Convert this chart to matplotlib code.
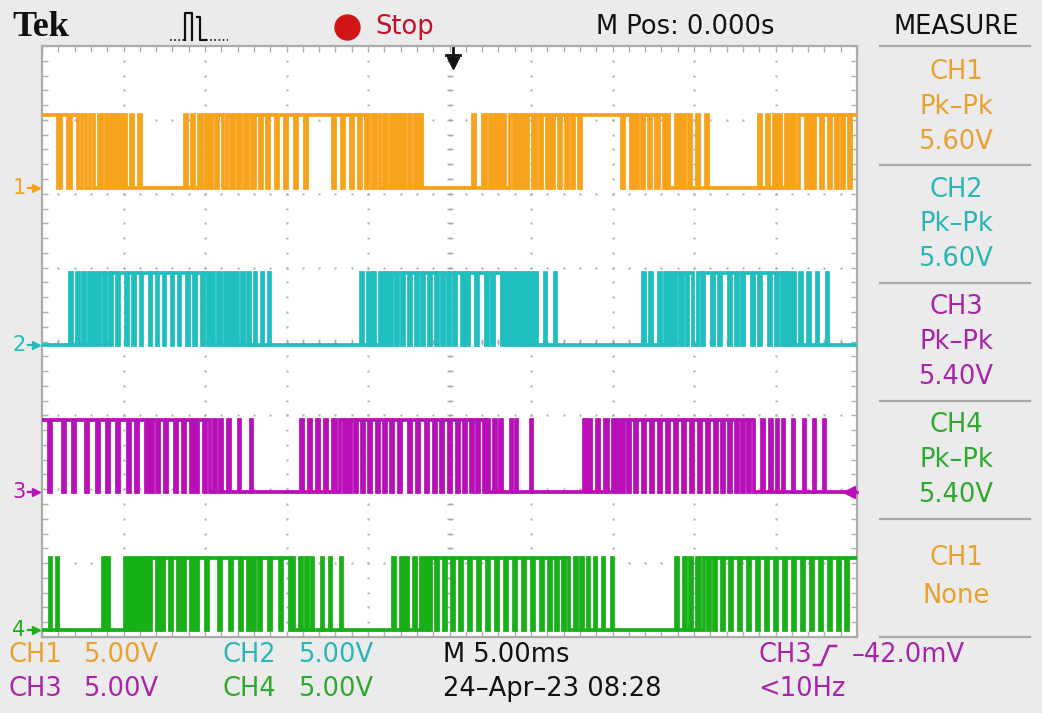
import numpy as np
import matplotlib
matplotlib.use("Agg")
import matplotlib.pyplot as plt

# ---------------- data (time in ms, 5 ms/div, 10 div) ----------------
time_span_ms = 50.0
volts_per_div = 5.0
channel_names = ["CH1", "CH2", "CH3", "CH4"]
ground_div = [6.08, 3.95, 1.96, 0.09]          # ground-marker positions (div)
high_level_V = [4.9, 4.9, 4.9, 4.9]             # logic-high level of each trace
pkpk_text = ["5.60V", "5.60V", "5.40V", "5.40V"]

# high intervals (t_on, t_off) in ms
ch1_high = [(0.00, 0.98), (1.17, 1.60), (1.78, 2.21), (2.45, 2.70), (2.94, 3.19), (3.50, 3.68),
            (3.93, 4.11), (4.29, 4.48), (4.66, 4.85), (5.03, 5.15), (5.46, 5.58), (5.95, 6.07),
            (8.77, 8.90), (9.20, 9.33), (9.63, 9.82), (10.06, 10.25), (10.43, 10.67), (10.80, 11.10),
            (11.35, 11.60), (11.78, 12.02), (12.21, 12.45), (12.64, 12.88), (13.07, 13.37), (13.50, 13.80),
            (13.93, 14.36), (14.48, 14.91), (15.03, 15.52), (15.64, 16.13), (16.26, 17.85), (17.98, 18.41),
            (18.53, 18.96), (19.08, 19.45), (19.57, 19.88), (20.06, 20.31), (20.49, 20.74), (20.98, 21.17),
            (21.41, 21.53), (21.72, 21.90), (22.09, 22.27), (22.52, 22.64), (22.88, 23.01), (23.19, 23.31),
            (26.44, 26.56), (27.05, 27.24), (27.48, 27.67), (27.85, 28.04), (28.22, 28.40), (28.71, 28.96),
            (29.14, 29.26), (29.45, 29.63), (29.82, 30.12), (30.31, 30.55), (30.67, 30.98), (31.10, 31.29),
            (31.41, 31.72), (31.84, 32.15), (32.27, 32.52), (32.64, 32.94), (33.07, 35.58), (35.71, 36.14),
            (36.26, 36.44), (36.56, 36.81), (36.93, 37.24), (37.36, 37.67), (37.85, 38.16), (38.34, 38.47),
            (38.90, 39.08), (39.26, 39.45), (39.69, 39.82), (40.18, 40.31), (40.74, 40.86),
            (43.99, 44.11), (44.48, 44.60), (44.91, 45.03), (45.21, 45.34), (45.64, 45.83), (46.01, 46.20),
            (46.44, 46.87), (47.05, 47.24), (47.42, 47.79), (47.91, 48.28), (48.41, 48.71), (48.83, 49.08),
            (49.20, 49.51), (49.63, 50.00)]

ch2_high = [(1.72, 1.84), (2.15, 2.27), (2.52, 2.64), (2.88, 3.07), (3.25, 3.44), (3.56, 3.80),
            (3.93, 4.17), (4.29, 4.60), (4.72, 5.15), (5.28, 5.58), (5.71, 6.07), (6.14, 6.63),
            (6.69, 7.06), (7.12, 7.48), (7.55, 7.98), (8.04, 8.40), (8.47, 8.90), (9.02, 9.33),
            (9.45, 9.82), (9.94, 10.18), (10.37, 10.55), (10.80, 10.98), (11.23, 11.41), (11.60, 11.72),
            (11.90, 12.02), (12.27, 12.39), (12.64, 12.76), (13.07, 13.13), (13.50, 13.56), (13.93, 13.99),
            (19.57, 19.69), (20.00, 20.12), (20.31, 20.43), (20.74, 20.92), (21.10, 21.29), (21.47, 21.72),
            (21.84, 22.09), (22.21, 22.52), (22.64, 22.94), (23.07, 23.31), (23.44, 23.74), (23.87, 24.17),
            (24.29, 24.54), (24.66, 24.91), (25.03, 25.28), (25.40, 25.77), (25.89, 26.07), (26.20, 26.63),
            (26.75, 27.24), (27.36, 27.61), (27.73, 28.22), (28.34, 28.53), (28.65, 28.83), (29.02, 29.14),
            (29.33, 29.45), (29.63, 29.75), (29.94, 30.06), (30.25, 30.37), (30.86, 30.92), (31.47, 31.53),
            (36.87, 36.99), (37.30, 37.42), (37.85, 37.98), (38.22, 38.41), (38.53, 38.71), (38.90, 39.14),
            (39.33, 39.57), (39.63, 39.94), (40.25, 40.49), (40.61, 41.10), (41.23, 41.53), (41.66, 42.15),
            (42.27, 42.58), (42.70, 42.95), (43.07, 43.56), (43.68, 43.99), (44.11, 44.60), (44.72, 45.03),
            (45.15, 45.40), (45.52, 45.58), (45.77, 45.89), (46.07, 46.20), (46.50, 46.63), (46.99, 47.12),
            (47.55, 47.61), (48.16, 48.22)]

ch3_high = [(0.00, 0.43), (0.55, 1.29), (1.41, 1.90), (2.02, 2.70), (2.82, 3.37), (3.50, 3.99),
            (4.11, 4.60), (4.72, 5.28), (5.40, 5.77), (5.89, 6.38), (6.50, 6.69), (6.81, 7.06),
            (7.18, 7.55), (7.67, 8.16), (8.28, 8.65), (8.77, 9.14), (9.26, 9.45), (9.57, 9.94),
            (10.06, 10.31), (10.55, 10.67), (10.92, 11.04), (11.41, 11.53), (12.09, 12.15), (12.82, 12.88),
            (15.89, 16.01), (16.38, 16.50), (16.87, 16.99), (17.36, 17.48), (17.85, 18.04), (18.28, 18.53),
            (18.65, 18.83), (18.96, 19.20), (19.33, 19.63), (19.75, 20.06), (20.18, 20.55), (20.67, 20.98),
            (21.10, 21.41), (21.53, 21.90), (22.02, 22.52), (22.64, 23.01), (23.13, 23.56), (23.68, 24.05),
            (24.17, 24.48), (24.60, 24.97), (25.09, 25.46), (25.58, 25.89), (26.01, 26.32), (26.44, 26.69),
            (26.81, 27.12), (27.24, 27.42), (27.73, 27.85), (28.10, 28.22), (28.77, 28.83), (29.08, 29.14),
            (30.00, 30.06), (33.25, 33.37), (33.56, 33.68), (34.05, 34.17), (34.54, 34.72), (35.03, 35.21),
            (35.40, 35.58), (35.71, 35.95), (36.07, 36.38), (36.50, 36.87), (36.99, 37.36), (37.48, 37.85),
            (37.98, 38.34), (38.47, 38.83), (38.96, 39.33), (39.45, 39.82), (39.94, 40.31), (40.43, 40.80),
            (40.92, 41.29), (41.41, 41.72), (41.84, 42.15), (42.27, 42.58), (42.70, 42.95), (43.07, 43.31),
            (43.44, 43.68), (44.17, 44.29), (44.66, 44.79), (45.09, 45.15), (45.46, 45.52), (46.07, 46.13),
            (46.75, 46.81), (47.36, 47.42), (47.98, 48.04)]

ch4_high = [(0.49, 0.55), (0.92, 0.98), (3.74, 3.87), (4.05, 4.11), (5.09, 5.21), (5.40, 5.52),
            (5.64, 5.77), (5.89, 6.01), (6.20, 6.38), (6.44, 6.56), (6.69, 7.06), (7.18, 7.36),
            (7.48, 7.85), (7.98, 8.34), (8.47, 8.65), (8.77, 9.14), (9.26, 9.45), (9.57, 10.06),
            (10.18, 10.86), (10.98, 11.53), (11.66, 12.15), (12.27, 12.64), (12.76, 12.94), (13.07, 13.31),
            (13.44, 13.93), (14.05, 14.60), (14.72, 15.21), (15.34, 15.46), (15.83, 15.95), (16.20, 16.32),
            (16.56, 16.63), (17.18, 17.24), (17.67, 17.73), (18.34, 18.41), (21.53, 21.66), (22.02, 22.15),
            (22.33, 22.45), (22.82, 22.94), (23.25, 23.44), (23.62, 23.74), (23.87, 24.17), (24.29, 24.66),
            (24.79, 25.15), (25.28, 25.64), (25.77, 26.20), (26.32, 26.75), (26.87, 27.30), (27.42, 27.85),
            (27.98, 28.40), (28.53, 28.96), (29.08, 29.51), (29.63, 30.06), (30.18, 30.61), (30.74, 31.10),
            (31.23, 31.53), (31.66, 31.96), (32.09, 32.33), (32.70, 32.82), (33.07, 33.19), (33.50, 33.56),
            (33.93, 33.99), (34.42, 34.48), (34.97, 35.03), (38.90, 39.02), (39.39, 39.51), (39.75, 39.88),
            (40.18, 40.37), (40.61, 40.86), (40.98, 41.23), (41.35, 41.72), (41.84, 42.21), (42.33, 42.76),
            (42.88, 43.31), (43.44, 43.86), (43.99, 44.42), (44.54, 44.97), (45.09, 45.52), (45.64, 46.07),
            (46.20, 46.63), (46.75, 47.18), (47.30, 47.73), (47.85, 48.28), (48.41, 48.83), (48.96, 49.33),
            (49.45, 50.00)]

trace_colors = ["#F7A21B", "#1FBFBF", "#B80FB8", "#17B017"]
text_colors = ["#E8A030", "#2AB6B6", "#A824A8", "#2EA82E"]

# ---------------- figure ----------------
W, H = 1042, 713
fig = plt.figure(figsize=(W / 100, H / 100), dpi=100, facecolor="#EBEBEB")
L, R, T, B = 42, 857, 46, 637
ax = fig.add_axes([L / W, 1 - B / H, (R - L) / W, (B - T) / H])
ax.set_facecolor("white")
ax.set_xlim(0, time_span_ms)
ax.set_ylim(0, 8)
for s in ax.spines.values():
    s.set_color("#ABABAB")
    s.set_linewidth(1.6)
ax.set_xticks(np.arange(0, time_span_ms + 0.01, 1.0))
ax.set_yticks(np.arange(0, 8.001, 0.2))
ax.tick_params(direction="in", length=4, width=1, color="#B0B0B0",
               top=True, right=True, labelbottom=False, labelleft=False)

grid_c = "#A8A8A8"
for k in range(1, 10):
    yy = np.arange(0.2, 8.0, 0.2)
    ax.plot(np.full_like(yy, 5.0 * k), yy, ls="none", marker="s", ms=1.4, color=grid_c, mew=0, zorder=1)
for k in range(1, 8):
    xx = np.arange(1.0, 50.0, 1.0)
    ax.plot(xx, np.full_like(xx, float(k)), ls="none", marker="s", ms=1.4, color=grid_c, mew=0, zorder=1)
yy = np.arange(0.2, 8.0, 0.2)
ax.plot(np.full_like(yy, 25.0), yy, ls="none", marker="_", ms=5, mew=1.0, color=grid_c, zorder=1)
xx = np.arange(1.0, 50.0, 1.0)
ax.plot(xx, np.full_like(xx, 4.0), ls="none", marker="|", ms=5, mew=1.0, color=grid_c, zorder=1)


def step_trace(intervals, base, high, t0=0.0, t1=time_span_ms):
    xs, ys = [], []
    level = base
    if intervals and intervals[0][0] <= t0:
        level = base + high
    xs.append(t0); ys.append(level)
    for s, e in intervals:
        if s > t0:
            xs += [s, s]; ys += [base, base + high]
        if e < t1:
            xs += [e, e]; ys += [base + high, base]
    xs.append(t1); ys.append(ys[-1])
    return xs, ys


all_high = [ch1_high, ch2_high, ch3_high, ch4_high]
for i in range(4):
    xs, ys = step_trace(all_high[i], ground_div[i], high_level_V[i] / volts_per_div)
    ax.plot(xs, ys, color=trace_colors[i], lw=2.7, solid_joinstyle="miter", zorder=3, clip_on=True)

# ---------------- overlay in pixel coordinates ----------------
ov = fig.add_axes([0, 0, 1, 1], zorder=5)
ov.set_xlim(0, W)
ov.set_ylim(H, 0)
ov.axis("off")
ov.patch.set_alpha(0)

FS = 18.5
fam = ["DejaVu Sans"]
black = "#111111"

ov.text(12, 28, "Tek", fontsize=26, fontweight="bold", family=["Liberation Serif"], color=black,
        va="center", ha="left")
# acquisition pulse icon
ov.plot([170, 184], [40, 40], color=black, lw=1.2, ls=(0, (1, 1.5)))
ov.plot([185, 185, 192, 192], [40, 13, 13, 40], color=black, lw=1.6)
ov.plot([197, 200, 200, 206], [17, 17, 40, 40], color=black, lw=1.6)
ov.plot([206, 228], [40, 40], color=black, lw=1.2, ls=(0, (1, 1.5)))
# stop
ov.plot([347], [27], marker="o", ms=18, color="#D21515", mec="#D21515")
ov.text(375, 27, "Stop", fontsize=FS, color="#C0102A", va="center", ha="left", family=fam)
ov.text(596, 27, "M Pos: 0.000s", fontsize=FS, color=black, va="center", ha="left", family=fam)
ov.text(956, 27, "MEASURE", fontsize=FS, color=black, va="center", ha="center", family=fam)

# trigger position arrow
ov.plot([453, 453], [48, 62], color=black, lw=2)
ov.plot([446, 460], [55, 55], color=black, lw=2)
ov.plot([453], [63], marker="v", ms=8, color=black)

# right panel separators
for y in [46, 165, 283, 401, 519, 637]:
    ov.plot([880, 1030], [y, y], color="#A9A9A9", lw=1.6)

meas_y = [(72, 107, 142), (190, 224, 259), (307, 342, 377), (425, 460, 495)]
for i in range(4):
    y0, y1, y2 = meas_y[i]
    ov.text(956, y0, channel_names[i], fontsize=FS, color=text_colors[i], ha="center", va="center", family=fam)
    ov.text(956, y1, "Pk\u2013Pk", fontsize=FS, color=text_colors[i], ha="center", va="center", family=fam)
    ov.text(956, y2, pkpk_text[i], fontsize=FS, color=text_colors[i], ha="center", va="center", family=fam)
ov.text(956, 558, "CH1", fontsize=FS, color=text_colors[0], ha="center", va="center", family=fam)
ov.text(956, 596, "None", fontsize=FS, color=text_colors[0], ha="center", va="center", family=fam)

# channel ground markers
for i in range(4):
    ypx = B - ground_div[i] * (B - T) / 8.0
    ov.text(19, ypx, str(i + 1), fontsize=15, color=trace_colors[i], ha="center", va="center", family=fam)
    ov.plot([28, 37], [ypx, ypx], color=trace_colors[i], lw=1.6)
    ov.plot([36], [ypx], marker=">", ms=6, color=trace_colors[i])
# trigger level marker (CH3)
ytrig = B - ground_div[2] * (B - T) / 8.0
ov.plot([849], [ytrig], marker="<", ms=8, color=trace_colors[2])
ov.plot([849, 857], [ytrig, ytrig], color=trace_colors[2], lw=2)

# bottom status lines
r1, r2 = 655, 689
ov.text(8, r1, "CH1", fontsize=FS, color=text_colors[0], va="center", family=fam)
ov.text(83, r1, "5.00V", fontsize=FS, color=text_colors[0], va="center", family=fam)
ov.text(223, r1, "CH2", fontsize=FS, color=text_colors[1], va="center", family=fam)
ov.text(298, r1, "5.00V", fontsize=FS, color=text_colors[1], va="center", family=fam)
ov.text(443, r1, "M 5.00ms", fontsize=FS, color=black, va="center", family=fam)
ov.text(758, r1, "CH3", fontsize=FS, color=text_colors[2], va="center", family=fam)
ov.plot([814, 821, 829, 836], [665, 665, 646, 646], color=text_colors[2], lw=1.8)
ov.text(852, r1, "\u201342.0mV", fontsize=FS, color=text_colors[2], va="center", family=fam)

ov.text(8, r2, "CH3", fontsize=FS, color=text_colors[2], va="center", family=fam)
ov.text(83, r2, "5.00V", fontsize=FS, color=text_colors[2], va="center", family=fam)
ov.text(223, r2, "CH4", fontsize=FS, color=text_colors[3], va="center", family=fam)
ov.text(298, r2, "5.00V", fontsize=FS, color=text_colors[3], va="center", family=fam)
ov.text(443, r2, "24\u2013Apr\u201323 08:28", fontsize=FS, color=black, va="center", family=fam)
ov.text(758, r2, "<10Hz", fontsize=FS, color=text_colors[2], va="center", family=fam)

fig.savefig("out.png", dpi=100, facecolor=fig.get_facecolor())
